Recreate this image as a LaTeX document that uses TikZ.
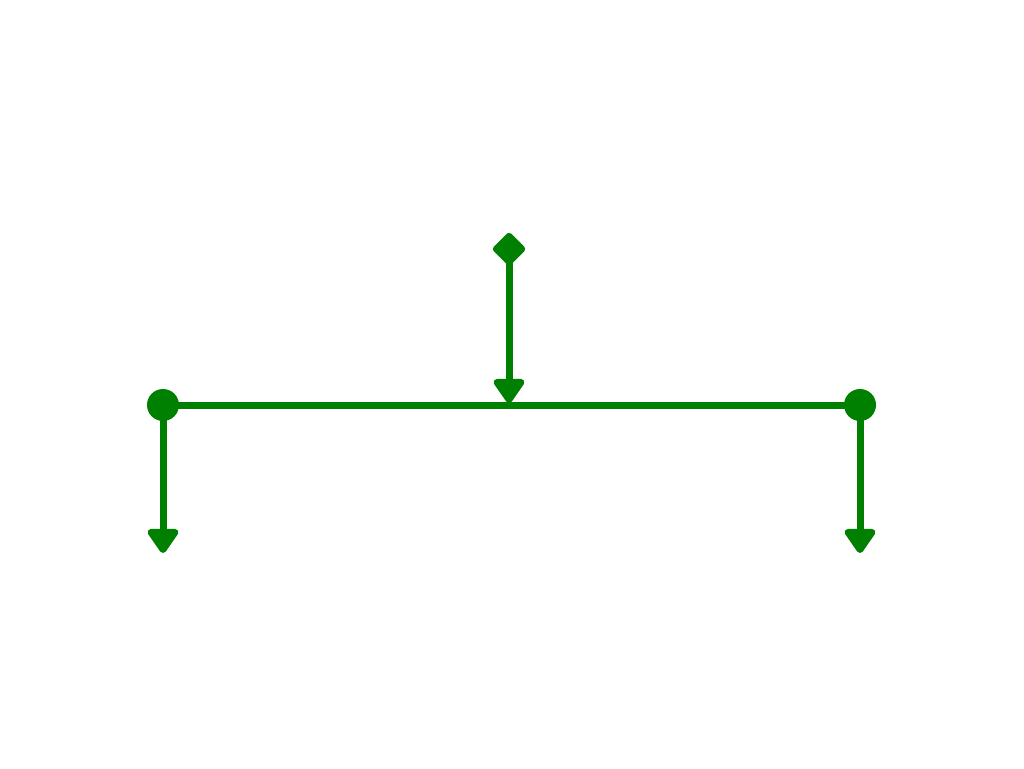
\documentclass[tikz,border=0pt]{standalone}
\usetikzlibrary{arrows.meta,shapes.geometric}
\definecolor{lg}{RGB}{0,128,0}
\begin{document}
\begin{tikzpicture}[x=1pt,y=-1pt,
 dot/.style={circle,fill=lg,inner sep=0pt,minimum size=32pt},
 dia/.style={diamond,fill=lg,draw=lg,line width=3pt,rounded corners=2pt,inner sep=0pt,minimum size=32pt},
 bar/.style={draw=lg,line width=7pt},
 arr/.style={bar,-{Triangle[width=35pt,length=27pt,round]}}]
\useasboundingbox (0,0) rectangle (1024,768);
\node[dot] (L) at (163,405) {};
\node[dot] (R) at (860,405) {};
\node[dia] (T) at (509,249) {};
\coordinate (M) at (509,403);
\coordinate (LB) at (163,553);
\coordinate (RB) at (860,553);
\draw[bar] (L.center) -- (R.center);
\draw[arr] (T.center) -- (M);
\draw[arr] (L.center) -- (LB);
\draw[arr] (R.center) -- (RB);
\end{tikzpicture}
\end{document}
